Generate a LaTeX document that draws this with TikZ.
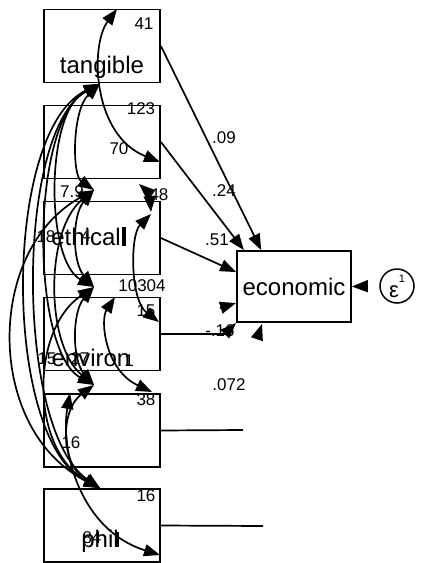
\documentclass[tikz,border=0pt]{standalone}
\usepackage{fontspec}
\setmainfont{Liberation Sans}
\usetikzlibrary{arrows.meta,calc}

\begin{document}
\begin{tikzpicture}[x=1pt,y=-1pt,
 v/.style={draw,line width=1.8pt,minimum width=116pt,minimum height=73pt,inner sep=0pt},
 t/.style={anchor=base,inner sep=0pt,font=\fontsize{24}{26}\selectfont},
 n/.style={inner sep=0pt,font=\fontsize{17}{18}\selectfont},
 a/.style={-{Triangle[length=16pt,width=12pt]},line width=1.7pt},
 c/.style={{Triangle[length=16pt,width=12pt]}-{Triangle[length=16pt,width=12pt]},line width=1.7pt}
]
\useasboundingbox (0,0) rectangle (422,563);
\node[v] (tangible) at (102,46) {};
\node[v] (v2) at (102,142) {};
\node[v] (ethical) at (102,238) {};
\node[v] (environ) at (102,334) {};
\node[v] (v5) at (102,430.5) {};
\node[v] (phil) at (102,525.5) {};
\node[v,minimum width=114pt,minimum height=71pt,font=\fontsize{24}{26}\selectfont] (economic) at (294,286.5) {economic};
\node[draw,circle,line width=1.5pt,minimum size=34pt,inner sep=0pt,font=\fontsize{22}{22}\selectfont] (eps) at (397,286) {\raisebox{-0.4ex}{ε}\raisebox{0.9ex}{\fontsize{11}{11}\selectfont 1}};
\node[t] at (102,73) {tangible};
\node[t] at (86,245) {ethical};
\node[t] at (91,366) {environ};
\node[t] at (100,547) {phil};
\fill (122,227) rectangle (126,246);
\fill (115,532) rectangle (119,547);
% paths to economic
\coordinate (x5) at (243,430);
\coordinate (x6) at (263,526);
\coordinate (h5) at (236,303);
\coordinate (h6) at (262,324);
\draw[a] (tangible.east) -- node[n,pos=0.45,xshift=18pt]{.09} (economic.132);
\draw[a] (v2.east) -- (economic.144);
\draw[a] (ethical.east) -- (economic.166);
\draw[a] (environ.east) -- ($(environ.east)+(64,0)$) -- (economic.south west);
\draw[line width=1.7pt] (v5.east) -- (x5);
\draw[line width=1.7pt] (phil.east) -- (x6);
\draw[a] ($(h5)+(-16,5)$) -- (h5);
\draw[a] ($(h6)+(-5,15)$) -- (h6);
\draw[a,shorten <=12pt] (eps.west) -- (economic.east);
% covariances
\coordinate (ft) at (100,84);
\coordinate (f2) at (94,190);
\coordinate (f3) at (94,287);
\coordinate (f4) at (94,385);
\coordinate (f6) at (100,488);
\draw[c] (ft) .. controls (72,110) and (72,175) .. (f2);
\draw[c] (ft) .. controls (45,110) and (45,260) .. (f3);
\draw[c] (ft) .. controls (30,120) and (30,350) .. (f4);
\draw[c] (ft) .. controls (15,130) and (15,430) .. (f6);
\draw[c] (ft) .. controls (2,130) and (2,440) .. (f6);
\draw[c] (f2) .. controls (72,215) and (72,262) .. (f3);
\draw[c] (f2) .. controls (45,230) and (45,345) .. (f4);
\draw[c] (f2) .. controls (-15,250) and (-15,430) .. (f6);
\draw[c] (f3) .. controls (72,312) and (72,360) .. (f4);
\draw[c] (f3) .. controls (30,330) and (30,450) .. (f6);
\draw[c] (f4) .. controls (60,410) and (60,465) .. (f6);
\coordinate (r1a) at (117,9);
\coordinate (r1b) at (160,162);
\coordinate (r2a) at (139,184);
\coordinate (r2b) at (151,212);
\coordinate (r2c) at (151,214);
\coordinate (r2d) at (159,322);
\coordinate (r3a) at (115,297);
\coordinate (r3b) at (152,392);
\coordinate (r4a) at (70,393);
\coordinate (r4b) at (160,555);
\draw[c] (r1a) .. controls (90,45) and (92,135) .. (r1b);
\draw[c] (r2a) .. controls (148,192) and (150,200) .. (r2b);
\draw[c] (r2c) .. controls (130,235) and (130,300) .. (r2d);
\draw[c] (r3a) .. controls (100,320) and (105,370) .. (r3b);
\draw[c] (r4a) .. controls (60,450) and (80,530) .. (r4b);
% numbers
\node[n] at (144,24) {41};
\node[n] at (141,109) {123};
\node[n] at (119,149) {70};
\node[n] at (72,192) {7.9};
\node[n] at (159,195) {48};
\node[n] at (46,237) {18};
\node[n] at (86,236) {4};
\node[n] at (142,286) {10304};
\node[n] at (146,311) {15};
\node[n] at (47,359) {15};
\node[n] at (80,359) {27};
\node[n] at (129,361) {1};
\node[n] at (146,400) {38};
\node[n] at (71,443) {16};
\node[n] at (146,496) {16};
\node[n] at (92,538) {84};
\node[n] at (224,191) {.24};
\node[n] at (217,240) {.51};
\node[n] at (220,331) {-.16};
\node[n] at (229,385) {.072};
\end{tikzpicture}
\end{document}
